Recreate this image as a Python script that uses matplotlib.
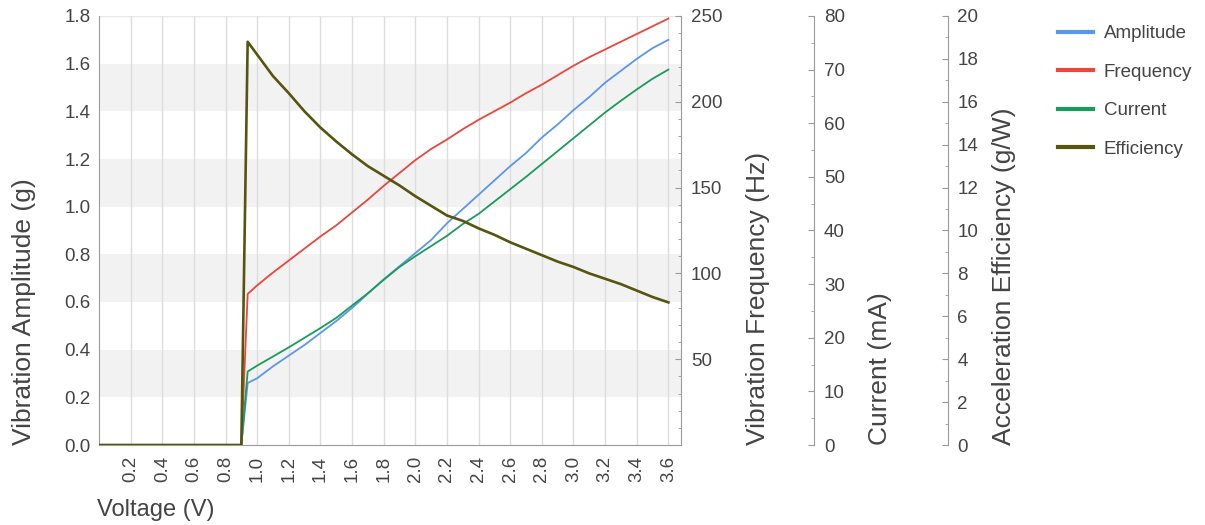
import matplotlib
matplotlib.use("Agg")
import matplotlib.pyplot as plt
from matplotlib.ticker import MultipleLocator

plt.rcParams.update({
    "font.family": ["Liberation Sans", "DejaVu Sans"],
    "text.color": "#444444",
    "axes.labelcolor": "#444444",
    "xtick.color": "#444444",
    "ytick.color": "#444444",
})

# Voltage sweep (V) and the four measured curves
VOLTAGE = [0.0, 0.1, 0.2, 0.3, 0.4, 0.5, 0.6, 0.7, 0.8, 0.9, 0.94,
           1.0, 1.1, 1.2, 1.3, 1.4, 1.5, 1.6, 1.7, 1.8, 1.9,
           2.0, 2.1, 2.2, 2.3, 2.4, 2.5, 2.6, 2.7, 2.8, 2.9,
           3.0, 3.1, 3.2, 3.3, 3.4, 3.5, 3.6]
AMPLITUDE = [0, 0, 0, 0, 0, 0, 0, 0, 0, 0, 0.26,
             0.28, 0.33, 0.375, 0.42, 0.47, 0.52, 0.575, 0.635, 0.695, 0.75,
             0.805, 0.86, 0.93, 0.99, 1.05, 1.11, 1.17, 1.225, 1.29, 1.345,
             1.405, 1.46, 1.52, 1.57, 1.62, 1.665, 1.70]
FREQUENCY = [0, 0, 0, 0, 0, 0, 0, 0, 0, 0, 88,
             93, 100.5, 107.5, 114.5, 121.5, 128, 135.5, 143, 151, 158.5,
             166, 172.5, 178, 184, 189.5, 194.5, 199.5, 205, 210, 215.5,
             221, 226, 230.5, 235, 239.5, 244, 248.5]
CURRENT = [0, 0, 0, 0, 0, 0, 0, 0, 0, 0, 13.7,
           14.8, 16.5, 18.2, 20.0, 21.8, 23.7, 26.0, 28.3, 30.8, 33.2,
           35.2, 37.1, 39.0, 41.2, 43.1, 45.4, 47.7, 50.0, 52.4, 54.8,
           57.2, 59.6, 62.0, 64.2, 66.3, 68.3, 70.0]
EFFICIENCY = [0, 0, 0, 0, 0, 0, 0, 0, 0, 0, 18.8,
              18.2, 17.2, 16.4, 15.55, 14.8, 14.15, 13.55, 13.0, 12.55, 12.1,
              11.6, 11.15, 10.7, 10.45, 10.1, 9.8, 9.45, 9.15, 8.85, 8.55,
              8.3, 8.0, 7.75, 7.5, 7.2, 6.9, 6.65]

XTICKS = [0.2, 0.4, 0.6, 0.8, 1.0, 1.2, 1.4, 1.6, 1.8, 2.0, 2.2, 2.4,
          2.6, 2.8, 3.0, 3.2, 3.4, 3.6]
BANDS = [(0.2, 0.4), (0.6, 0.8), (1.0, 1.2), (1.4, 1.6)]

COLORS = {"Amplitude": "#5b97e8", "Frequency": "#e8473c",
          "Current": "#1a9b5b", "Efficiency": "#55550f"}
SPINE = "#9a9a9a"
TICK_FS = 13.5
LABEL_FS = 19

W, H = 1205, 525
fig = plt.figure(figsize=(W / 100, H / 100), dpi=100)
ax_l, ax_r, ax_b, ax_t = 99, 681, 445, 16
ax = fig.add_axes([ax_l / W, 1 - ax_b / H, (ax_r - ax_l) / W, (ax_b - ax_t) / H])

# main axis: amplitude
for lo, hi in BANDS:
    ax.axhspan(lo, hi, color="#f2f2f2", lw=0, zorder=0)
ax.axhline(1.8, color="#e8e8e8", lw=1, zorder=0)
ax.set_xlim(0, 3.68)
ax.set_ylim(0, 1.8)
ax.set_xticks(XTICKS)
ax.set_xticklabels([f"{v:.1f}" for v in XTICKS], rotation=90)
ax.set_yticks([0.0, 0.2, 0.4, 0.6, 0.8, 1.0, 1.2, 1.4, 1.6, 1.8])
ax.yaxis.set_major_formatter(plt.FormatStrFormatter("%.1f"))
ax.tick_params(axis="both", length=0, labelsize=TICK_FS)
ax.tick_params(axis="y", pad=6)
ax.tick_params(axis="x", pad=8)
ax.grid(axis="x", color="#dddddd", lw=1)
ax.set_axisbelow(True)
for s in ["top", "right"]:
    ax.spines[s].set_visible(False)
for s in ["left", "bottom"]:
    ax.spines[s].set_color(SPINE)
ax.plot(VOLTAGE, AMPLITUDE, color=COLORS["Amplitude"], lw=1.3, label="Amplitude")
ax.set_xlabel("Voltage (V)", loc="left", fontsize=17)
ax.xaxis.set_label_coords(-0.004, -0.125)
ax.set_ylabel("Vibration Amplitude (g)", loc="bottom", fontsize=LABEL_FS)
ax.yaxis.set_label_coords(-0.108, 0)


def right_axis(offset, ylim, minor, ticks, label, label_x):
    a = ax.twinx()
    a.set_ylim(*ylim)
    a.spines["right"].set_position(("axes", offset))
    for s in ["top", "left", "bottom"]:
        a.spines[s].set_visible(False)
    a.spines["right"].set_color(SPINE)
    a.set_yticks(ticks)
    a.yaxis.set_minor_locator(MultipleLocator(minor))
    a.tick_params(axis="y", which="major", direction="in", length=4,
                  color=SPINE, labelsize=TICK_FS, pad=7)
    a.tick_params(axis="y", which="minor", direction="in", length=2.5,
                  color=SPINE)
    a.set_ylabel(label, loc="bottom", fontsize=LABEL_FS)
    a.yaxis.set_label_coords(label_x, 0)
    return a


ax_f = right_axis(1.0, (0, 250), 10, [50, 100, 150, 200, 250],
                  "Vibration Frequency (Hz)", 1.112)
ax_c = right_axis(1.229, (0, 80), 5, [0, 10, 20, 30, 40, 50, 60, 70, 80],
                  "Current (mA)", 1.322)
ax_e = right_axis(1.458, (0, 20), 1, [0, 2, 4, 6, 8, 10, 12, 14, 16, 18, 20],
                  "Acceleration Efficiency (g/W)", 1.535)

ax_f.plot(VOLTAGE, FREQUENCY, color=COLORS["Frequency"], lw=1.3, label="Frequency")
ax_c.plot(VOLTAGE, CURRENT, color=COLORS["Current"], lw=1.3, label="Current")
ax_e.plot(VOLTAGE, EFFICIENCY, color=COLORS["Efficiency"], lw=1.9, label="Efficiency")

handles = []
labels = []
for a in (ax, ax_f, ax_c, ax_e):
    h, l = a.get_legend_handles_labels()
    handles += h
    labels += l
leg = fig.legend(handles, labels, loc="upper left",
                 bbox_to_anchor=(1058 / W, 1 - 25 / H), frameon=False,
                 fontsize=13.5, labelspacing=1.14, handlelength=1.85,
                 handletextpad=0.6, borderaxespad=0, borderpad=0)
for line in leg.get_lines():
    line.set_linewidth(3.0)

fig.savefig("out.png", dpi=100)
